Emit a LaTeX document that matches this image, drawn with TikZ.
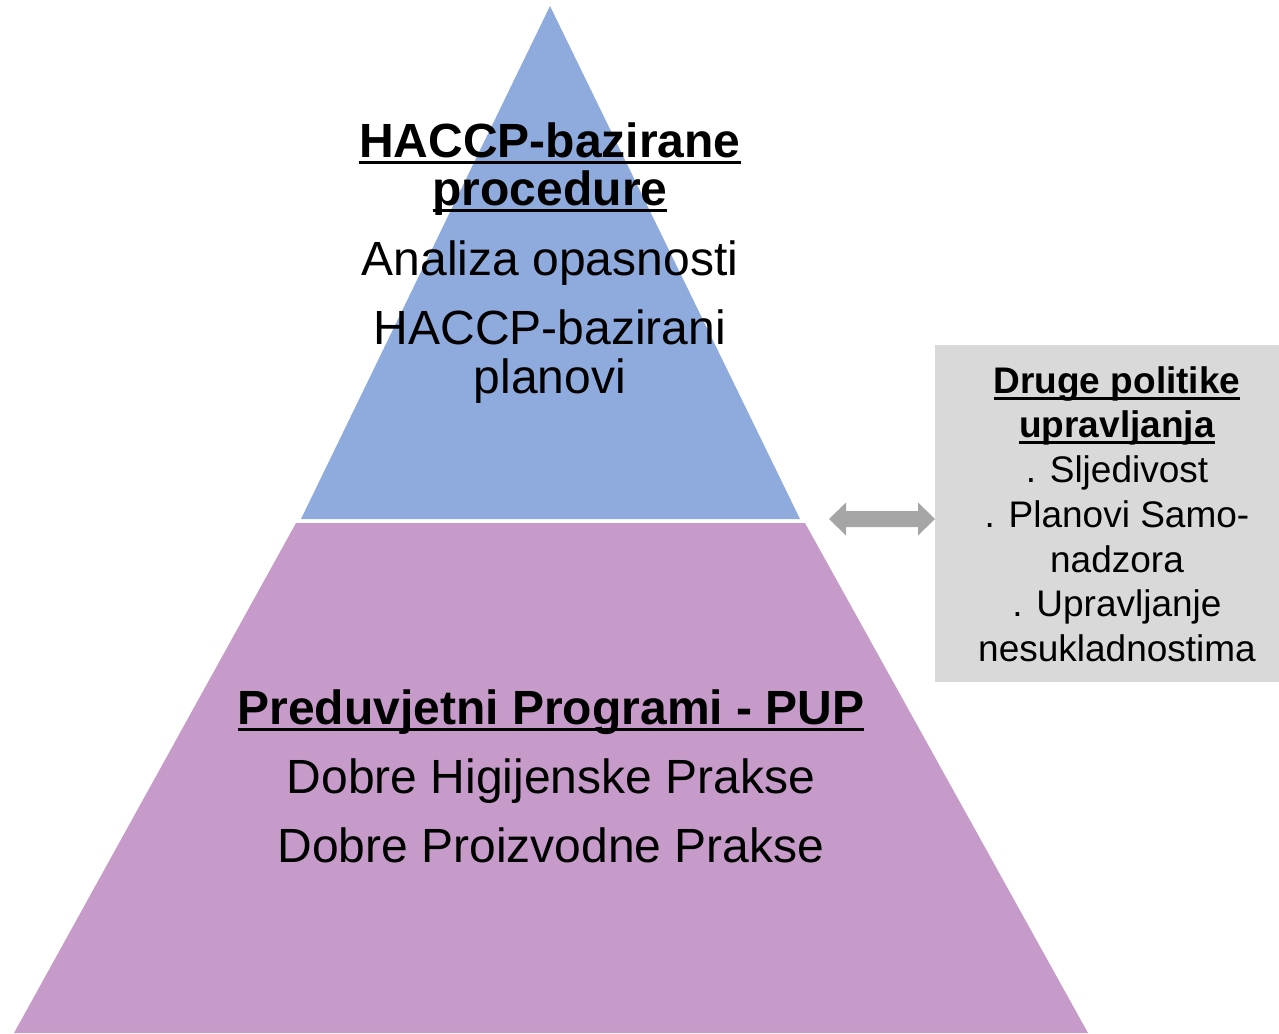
\documentclass[tikz,border=0pt]{standalone}
\usepackage{fontspec}
\setmainfont{Liberation Sans}
\definecolor{topblue}{RGB}{143,170,220}
\definecolor{basepink}{RGB}{198,155,201}
\definecolor{boxgray}{RGB}{217,217,217}
\definecolor{arrowgray}{RGB}{165,165,165}
\newcommand\myul[1]{\setbox0=\hbox{#1}\rlap{\rule[-7pt]{\wd0}{3pt}}\box0}
\tikzset{
  big/.style={inner sep=0pt, anchor=base, font=\fontsize{48}{50}\selectfont},
  bigb/.style={inner sep=0pt, anchor=base, font=\fontsize{48}{50}\selectfont\bfseries},
  small/.style={inner sep=0pt, anchor=base, font=\fontsize{37}{44}\selectfont},
  smallb/.style={inner sep=0pt, anchor=base, font=\fontsize{37}{44}\selectfont\bfseries},
}
\begin{document}
\begin{tikzpicture}[x=1pt,y=-1pt]
\useasboundingbox (0,0) rectangle (1279,1033);
% pyramid layers
\fill[topblue] (550,6) -- (800,519) -- (301,519) -- cycle;
\fill[basepink] (296,523) -- (805,523) -- (1088,1033) -- (14,1033) -- cycle;
% side box
\fill[boxgray] (935,345) rectangle (1279,682);
% double arrow
\fill[arrowgray] (829,519) -- (846,502.5) -- (846,511) -- (918,511) -- (918,502.5) -- (935,519)
  -- (918,535.5) -- (918,527) -- (846,527) -- (846,535.5) -- cycle;
% top texts
\node[bigb] (t1) at (550,157) {\myul{HACCP-bazirane}};
\node[bigb] (t2) at (550,205) {\myul{procedure}};
\node[big] (t3) at (550,275) {Analiza opasnosti};
\node[big] (t4) at (550,344) {HACCP-bazirani};
\node[big] (t5) at (550,393) {planovi};
% bottom texts
\node[bigb] (b1) at (551,724) {\myul{Preduvjetni Programi - PUP}};
\node[big] (b2) at (551,793) {Dobre Higijenske Prakse};
\node[big] (b3) at (551,862) {Dobre Proizvodne Prakse};
% box texts
\node[smallb] (r1) at (1117,393) {\myul{Druge politike}};
\node[smallb] (r2) at (1117,437) {\myul{upravljanja}};
\node[small] (r3) at (1117,482) {. Sljedivost};
\node[small] (r4) at (1117,527) {. Planovi Samo-};
\node[small] (r5) at (1117,572) {nadzora};
\node[small] (r6) at (1117,616) {. Upravljanje};
\node[small] (r7) at (1117,661) {nesukladnostima};
\end{tikzpicture}
\end{document}
